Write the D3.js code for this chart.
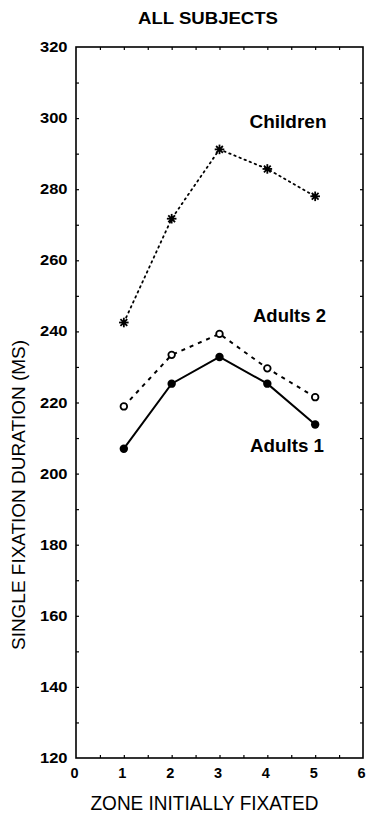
<!DOCTYPE html>
<html>
<head>
<meta charset="utf-8">
<script src="https://cdn.jsdelivr.net/npm/d3@7"></script>
<style>
  html, body { margin: 0; padding: 0; background: #fff; }
  svg { display: block; font-family: "Liberation Sans", Arial, Helvetica, sans-serif; }
</style>
</head>
<body>
<svg id="chart" width="369" height="814"></svg>
<script>
// ---- data ----
const zones = [1, 2, 3, 4, 5];
const children = [242.5, 271.7, 291.2, 285.7, 278.0];
const adults2 = [218.9, 233.4, 239.3, 229.6, 221.5];
const adults1 = [207.0, 225.3, 232.8, 225.3, 213.8];
const xTicks = [0, 1, 2, 3, 4, 5, 6];
const yTicks = [120, 140, 160, 180, 200, 220, 240, 260, 280, 300, 320];
const seriesNames = ["Children", "Adults 2", "Adults 1"];
const title = "ALL SUBJECTS";
const xTitle = "ZONE INITIALLY FIXATED";
const yTitle = "SINGLE FIXATION DURATION (MS)";

// ---- layout ----
const svg = d3.select("#chart");
const L = 76, R = 363, T = 47, B = 758;
const x = d3.scaleLinear().domain([0, 6]).range([L, R]);
const y = d3.scaleLinear().domain([120, 320]).range([B, T]);

const g = svg.append("g");

// frame
g.append("rect").attr("x", L).attr("y", T).attr("width", R - L).attr("height", B - T)
  .attr("fill", "none").attr("stroke", "#000").attr("stroke-width", 1.6);

// minor ticks (inward)
const xMinor = d3.range(0.5, 6, 0.5);
const yMinor = d3.range(130, 320, 10);
g.append("g").attr("transform", `translate(0,${B})`)
  .call(d3.axisBottom(x).tickValues(xMinor).tickSize(-3).tickFormat(""))
  .call(a => a.select(".domain").remove());
g.append("g").attr("transform", `translate(0,${T})`)
  .call(d3.axisTop(x).tickValues(xMinor).tickSize(-3).tickFormat(""))
  .call(a => a.select(".domain").remove());
g.append("g").attr("transform", `translate(${L},0)`)
  .call(d3.axisLeft(y).tickValues(yMinor).tickSize(-3).tickFormat(""))
  .call(a => a.select(".domain").remove());
g.append("g").attr("transform", `translate(${R},0)`)
  .call(d3.axisRight(y).tickValues(yMinor).tickSize(-3).tickFormat(""))
  .call(a => a.select(".domain").remove());
g.selectAll(".tick line").attr("stroke", "#000").attr("stroke-width", 1.2);

// tick labels
g.append("g").selectAll("text").data(yTicks).join("text")
  .attr("x", 67.5).attr("y", d => y(d) + 5)
  .attr("text-anchor", "end")
  .attr("font-size", 14).attr("font-weight", "bold")
  .attr("textLength", 27.5).attr("lengthAdjust", "spacingAndGlyphs")
  .text(d => d);
g.append("g").selectAll("text").data(xTicks).join("text")
  .attr("x", d => x(d) - 1.5).attr("y", 778)
  .attr("text-anchor", "middle")
  .attr("font-size", 14.5).attr("font-weight", "bold")
  .text(d => d);

// titles
svg.append("text").attr("x", 208).attr("y", 24).attr("text-anchor", "middle")
  .attr("font-size", 16).attr("font-weight", "bold")
  .attr("textLength", 140).attr("lengthAdjust", "spacingAndGlyphs")
  .text(title);
svg.append("text").attr("x", 204.5).attr("y", 810).attr("text-anchor", "middle")
  .attr("font-size", 20)
  .attr("textLength", 228).attr("lengthAdjust", "spacingAndGlyphs")
  .text(xTitle);
svg.append("text").attr("transform", "translate(25,495) rotate(-90)")
  .attr("text-anchor", "middle").attr("font-size", 18.5)
  .attr("textLength", 310).attr("lengthAdjust", "spacingAndGlyphs")
  .text(yTitle);

// lines
const line = d3.line().x((d, i) => x(zones[i])).y(d => y(d));
g.append("path").datum(children).attr("d", line).attr("fill", "none")
  .attr("stroke", "#000").attr("stroke-width", 1.8)
  .attr("stroke-dasharray", "1.5,4").attr("stroke-linecap", "round");
g.append("path").datum(adults2).attr("d", line).attr("fill", "none")
  .attr("stroke", "#000").attr("stroke-width", 2)
  .attr("stroke-dasharray", "4,5");
g.append("path").datum(adults1).attr("d", line).attr("fill", "none")
  .attr("stroke", "#000").attr("stroke-width", 2);

// markers
const star = g.append("g").selectAll("g").data(children).join("g")
  .attr("transform", (d, i) => `translate(${x(zones[i])},${y(d)})`);
[0, 45, 90, 135].forEach(a => {
  star.append("line").attr("x1", -4.8).attr("x2", 4.8).attr("y1", 0).attr("y2", 0)
    .attr("transform", `rotate(${a})`).attr("stroke", "#000").attr("stroke-width", 1.8);
});
star.append("circle").attr("r", 2.2).attr("fill", "#000");

g.append("g").selectAll("circle").data(adults2).join("circle")
  .attr("cx", (d, i) => x(zones[i])).attr("cy", d => y(d)).attr("r", 3.3)
  .attr("fill", "#fff").attr("stroke", "#000").attr("stroke-width", 1.8);
g.append("g").selectAll("circle").data(adults1).join("circle")
  .attr("cx", (d, i) => x(zones[i])).attr("cy", d => y(d)).attr("r", 4.2)
  .attr("fill", "#000");

// series labels
const labelPos = [[288, 128], [289.5, 322.3], [287, 452.3]];
const labelLen = [77, 73, 74];
g.append("g").selectAll("text").data(seriesNames).join("text")
  .attr("x", (d, i) => labelPos[i][0]).attr("y", (d, i) => labelPos[i][1])
  .attr("text-anchor", "middle").attr("font-size", 18).attr("font-weight", "bold")
  .attr("textLength", (d, i) => labelLen[i]).attr("lengthAdjust", "spacingAndGlyphs")
  .text(d => d);
</script>
</body>
</html>
